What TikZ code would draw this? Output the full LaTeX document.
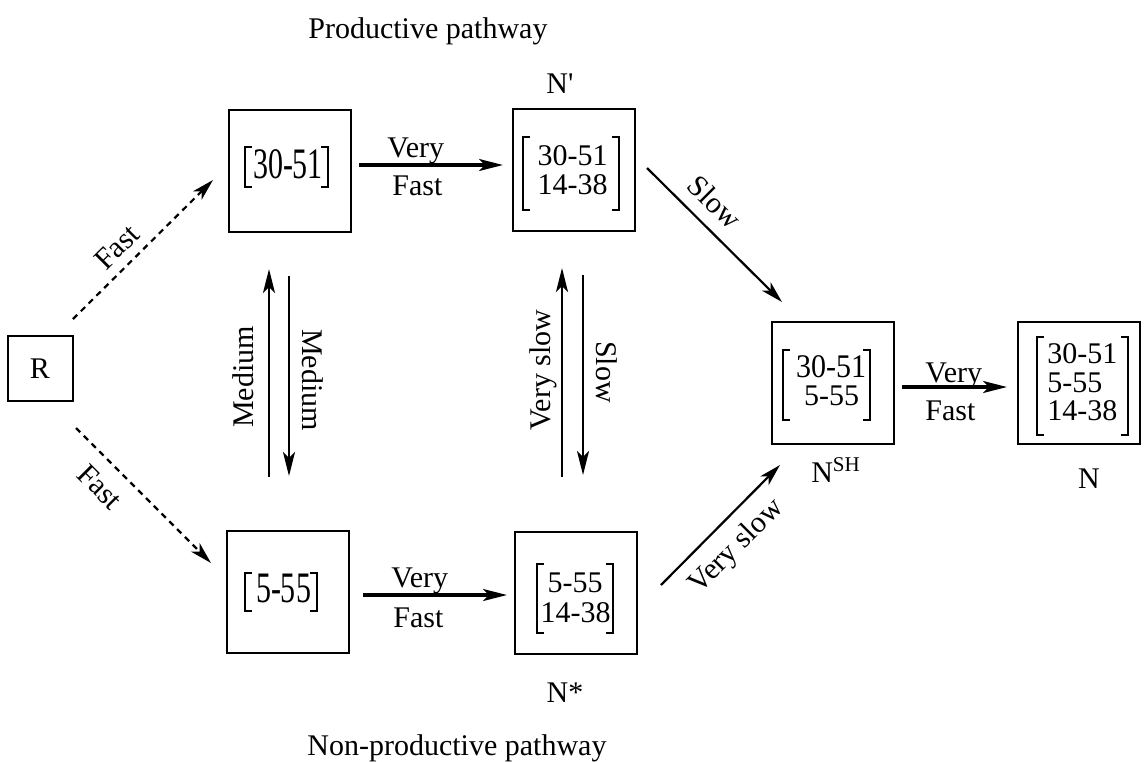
\documentclass[tikz,border=0pt]{standalone}
\usepackage{fontspec}
\setmainfont{Liberation Serif}
\usetikzlibrary{arrows.meta}
\newcommand\brackets[4]{%
  \draw[brk] (#1+7,#3) -- (#1,#3) -- (#1,#4) -- (#1+7,#4);
  \draw[brk] (#2-7,#3) -- (#2,#3) -- (#2,#4) -- (#2-7,#4);}
\begin{document}
\begin{tikzpicture}[x=0.5pt,y=-0.5pt,
  box/.style={draw,line width=1pt,inner sep=0pt},
  txt/.style={anchor=base,inner sep=0pt,font=\fontsize{15}{18}\selectfont},
  txtw/.style={anchor=base west,inner sep=0pt,font=\fontsize{15}{18}\selectfont},
  lbl/.style={inner sep=0pt,font=\fontsize{15}{18}\selectfont},
  arr/.style={line width=1.6pt,-{Stealth[length=12pt,width=6pt,inset=3pt]}},
  varr/.style={line width=1.3pt,-{Stealth[length=12pt,width=6pt,inset=3pt]}},
  darr/.style={line width=1.1pt,-{Stealth[length=11pt,width=6pt,inset=3pt]}},
  dasharr/.style={line width=1.1pt,dash pattern=on 3pt off 2.5pt,-{Stealth[length=11pt,width=6pt,inset=3pt]}},
  brk/.style={line width=0.9pt}]
\useasboundingbox (0,0) rectangle (1144,761);

% boxes
\node[box,minimum width=32.5pt,minimum height=32.5pt] (r) at (40.5,368.5) {};
\node[box,minimum size=61pt] (b1) at (290,171) {};
\node[box,minimum size=61pt] (np) at (574,169.5) {};
\node[box,minimum size=61pt] (b2) at (288,591.5) {};
\node[box,minimum size=61pt] (ns) at (576,592.5) {};
\node[box,minimum size=61pt] (nsh) at (832.5,382.5) {};
\node[box,minimum size=61pt] (nn) at (1079,382.5) {};

% box contents
\node[txt] (rt) at (40,378) {R};
\node[txt] (b1t) at (288,178) {\scalebox{1}[1.45]{30-51}};
\brackets{245}{328}{147}{187}
\node[txt] (b2t) at (283.5,602) {\scalebox{1}[1.45]{5-55}};
\brackets{245}{317}{573}{611}
\node[txt] (npt1) at (572.5,165) {30-51};
\node[txt] (npt2) at (572.5,194) {14-38};
\brackets{523}{619}{137}{210}
\node[txt] (nst1) at (575,592) {5-55};
\node[txt] (nst2) at (575.5,622) {14-38};
\brackets{537}{613}{564}{633}
\node[txt] (nsht1) at (831,377) {\scalebox{1}[1.1]{30-51}};
\node[txt] (nsht2) at (831.5,405) {5-55};
\brackets{783}{870}{350}{420}
\node[txtw] (nnt1) at (1047,363) {30-51};
\node[txtw] (nnt2) at (1047,392) {5-55};
\node[txtw] (nnt3) at (1047,420) {14-38};
\brackets{1037}{1128}{337}{435}

% names and titles
\node[txtw] (t1) at (308,38) {Productive pathway};
\node[txtw] (t2) at (307,755) {Non-productive pathway};
\node[txt] (l1) at (560,93) {N\textquotesingle};
\node[txt] (l2) at (565,702) {N*};
\node[txt] (l3) at (836,482) {N\textsuperscript{SH}};
\node[txt] (l4) at (1089,488) {N};

% connector end points
\coordinate (a1s) at (73,319);  \coordinate (a1e) at (213,180);
\coordinate (a2s) at (76,428);  \coordinate (a2e) at (211,563);
\coordinate (a3s) at (359,165); \coordinate (a3e) at (503,165);
\coordinate (a4s) at (363,595); \coordinate (a4e) at (507,595);
\coordinate (a5s) at (269,477); \coordinate (a5e) at (269,269);
\coordinate (a6s) at (289,276); \coordinate (a6e) at (289,476);
\coordinate (a7s) at (562,477); \coordinate (a7e) at (562,268);
\coordinate (a8s) at (583,275); \coordinate (a8e) at (583,475);
\coordinate (a9s) at (647,168); \coordinate (a9e) at (782,302);
\coordinate (a10s) at (661,585); \coordinate (a10e) at (780,465);
\coordinate (a11s) at (902,387); \coordinate (a11e) at (1007,387);

\draw[dasharr] (a1s) -- (a1e);
\draw[dasharr] (a2s) -- (a2e);
\draw[arr] (a3s) -- (a3e);
\draw[arr] (a4s) -- (a4e);
\draw[varr] (a5s) -- (a5e);
\draw[varr] (a6s) -- (a6e);
\draw[varr] (a7s) -- (a7e);
\draw[varr] (a8s) -- (a8e);
\draw[darr] (a9s) -- (a9e);
\draw[darr] (a10s) -- (a10e);
\draw[arr] (a11s) -- (a11e);

% connector labels
\node[lbl,rotate=45] (f1) at (117,247) {Fast};
\node[lbl,rotate=-45] (f2) at (100,487) {Fast};
\node[txtw] (v1) at (387,157) {Very};
\node[txtw] (v1b) at (392,195) {Fast};
\node[txtw] (v2) at (391,587) {Very};
\node[txtw] (v2b) at (393,627) {Fast};
\node[txtw] (v3) at (925,382) {Very};
\node[txtw] (v3b) at (925,420) {Fast};
\node[lbl,rotate=90] (m1) at (243,377) {Medium};
\node[lbl,rotate=-90] (m2) at (313,380) {Medium};
\node[lbl,rotate=90] (vs1) at (543,370) {Very slow};
\node[lbl,rotate=-90] (s1) at (607,372) {Slow};
\node[lbl,rotate=-45] (s2) at (715,202) {Slow};
\node[lbl,rotate=45] (vs2) at (737,547) {Very slow};
\end{tikzpicture}
\end{document}
